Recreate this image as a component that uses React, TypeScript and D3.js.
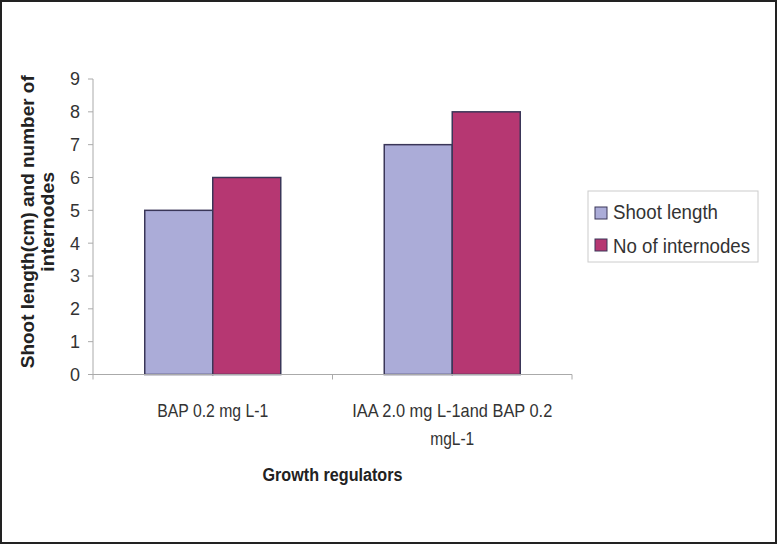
import React from "react";
import * as d3 from "d3";

const categories = [["BAP 0.2 mg L-1"], ["IAA 2.0 mg L-1and BAP 0.2", "mgL-1"]];
const categoryWidths = [[111], [200, 44]];
const seriesNames = ["Shoot length", "No of internodes"];
const legendWidths = [105, 137];
const shootLength = [5, 7];
const internodes = [6, 8];
const yTicks = [0, 1, 2, 3, 4, 5, 6, 7, 8, 9];
const colors = ["#ABACD8", "#B63772"];

const W = 777, H = 544;
const left = 93, right = 572, top = 79, bottom = 374.5;

export default function App() {
  const y = d3.scaleLinear().domain([0, 9]).range([bottom, top]);
  const x0 = d3.scaleBand<number>().domain([0, 1]).range([left, right]);
  const bw = x0.bandwidth();
  const x1 = d3.scaleBand<number>().domain([0, 1]).range([0, 136]);
  const series = [shootLength, internodes];
  const font = "'Liberation Sans', Arial, sans-serif";
  const cy = (top + bottom) / 2;
  return (
    <svg width={W} height={H} style={{ position: "absolute", left: 0, top: 0, background: "#fff" }} fontFamily={font}>
      <rect x={1} y={1} width={W - 2} height={H - 2} fill="#fff" stroke="#222" strokeWidth={2} />
      {/* y axis */}
      <line x1={left} x2={left} y1={top} y2={bottom} stroke="#aaa" />
      {yTicks.map((t) => (
        <g key={t}>
          <line x1={left - 5} x2={left} y1={y(t)} y2={y(t)} stroke="#aaa" />
          <text x={80} y={y(t)} dy="0.36em" textAnchor="end" fontSize={18} fill="#333"
            textLength={10} lengthAdjust="spacingAndGlyphs">{t}</text>
        </g>
      ))}
      {/* bars */}
      {categories.map((c, i) => {
        const gx = x0(i)! + (bw - 136) / 2;
        return series.map((s, j) => (
          <rect key={`${i}-${j}`} x={gx + x1(j)!} y={y(s[i])} width={x1.bandwidth()} height={bottom - y(s[i])}
            fill={colors[j]} stroke="#3a3658" strokeWidth={1.5} />
        ));
      })}
      {/* x axis */}
      <line x1={left} x2={right} y1={bottom} y2={bottom} stroke="#aaa" />
      {[0, 1, 2].map((k) => (
        <line key={k} x1={left + k * bw} x2={left + k * bw} y1={bottom} y2={bottom + 5} stroke="#aaa" />
      ))}
      {categories.map((c, i) =>
        c.map((l, k) => (
          <text key={`${i}-${k}`} x={x0(i)! + bw / 2} y={417 + k * 28} textAnchor="middle" fontSize={19} fill="#333"
            textLength={categoryWidths[i][k]} lengthAdjust="spacingAndGlyphs">{l}</text>
        ))
      )}
      <text x={left + bw} y={481} textAnchor="middle" fontSize={18} fontWeight="bold" fill="#222"
        textLength={140} lengthAdjust="spacingAndGlyphs">Growth regulators</text>
      {/* y title */}
      <g transform={`translate(0,${cy}) `}>
        <text transform={`translate(34,-5) rotate(-90)`} textAnchor="middle" fontSize={18} fontWeight="bold" fill="#222"
          textLength={293} lengthAdjust="spacingAndGlyphs">Shoot length(cm) and number of</text>
        <text transform={`translate(54,-5) rotate(-90)`} textAnchor="middle" fontSize={18} fontWeight="bold" fill="#222"
          textLength={100} lengthAdjust="spacingAndGlyphs">internodes</text>
      </g>
      {/* legend */}
      <rect x={588} y={191} width={170} height={71} fill="#fff" stroke="#ccc" />
      {seriesNames.map((n, j) => (
        <g key={n}>
          <rect x={595} y={207 + j * 32} width={12} height={12} fill={colors[j]} stroke="#3a3658" />
          <text x={613} y={219 + j * 34} fontSize={20} fill="#333"
            textLength={legendWidths[j]} lengthAdjust="spacingAndGlyphs">{n}</text>
        </g>
      ))}
    </svg>
  );
}
